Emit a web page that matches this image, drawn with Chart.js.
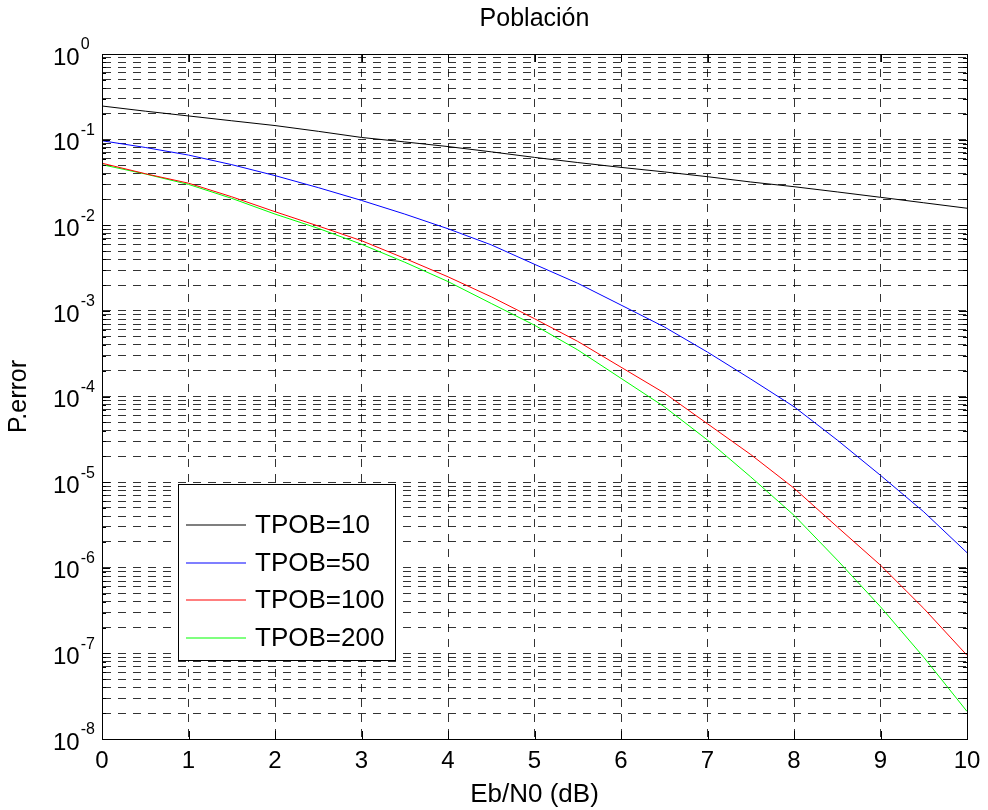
<!DOCTYPE html>
<html lang="es">
<head>
    <meta charset="UTF-8">
    <title>Población</title>
    <script src="https://cdn.jsdelivr.net/npm/chart.js"></script>
    <style>
        html, body { margin: 0; padding: 0; background: #fff; }
        #wrap { width: 988px; height: 810px; }
    </style>
</head>
<body>
    <div id="wrap">
        <canvas id="myChart" width="988" height="810"></canvas>
    </div>

<script>
    // Eb/N0 (dB)
    const ebn0 = [0, 0.5, 1, 1.5, 2, 2.5, 3, 3.5, 4, 4.5, 5, 5.5, 6, 6.5, 7, 7.5, 8, 8.5, 9, 9.5, 10];

    // P.error por tamaño de población
    const tpob10 = [0.247, 0.215, 0.189, 0.166, 0.146, 0.125, 0.106, 0.094, 0.083, 0.072, 0.062,
                    0.054, 0.0474, 0.042, 0.0369, 0.032, 0.0282, 0.0245, 0.0212, 0.0183, 0.0158];
    const tpob50 = [0.097, 0.081, 0.066, 0.051, 0.038, 0.0275, 0.0195, 0.0135, 0.0091, 0.0059, 0.0035,
                    0.0021, 0.00117, 6.5e-4, 3.3e-4, 1.6e-4, 7.6e-5, 3.1e-5, 1.2e-5, 4.5e-6, 1.5e-6];
    const tpob100 = [0.053, 0.040, 0.031, 0.0215, 0.0144, 0.0098, 0.0066, 0.0041, 0.0025, 0.00146, 8.1e-4,
                     4.4e-4, 2.2e-4, 1.1e-4, 4.8e-5, 2.1e-5, 8.5e-6, 3.0e-6, 1.07e-6, 3.35e-7, 9.5e-8];
    const tpob200 = [0.051, 0.0397, 0.030, 0.0206, 0.0135, 0.0092, 0.0060, 0.0037, 0.0022, 0.00122, 6.8e-4,
                     3.5e-4, 1.63e-4, 7.6e-5, 3.1e-5, 1.15e-5, 4.1e-6, 1.23e-6, 3.5e-7, 9.0e-8, 2.1e-8];

    const seriesNames = ['TPOB=10', 'TPOB=50', 'TPOB=100', 'TPOB=200'];
    const seriesColors = ['#000000', '#0000ff', '#ff0000', '#00ff00'];

    // ticks
    const xTicks = [0, 1, 2, 3, 4, 5, 6, 7, 8, 9, 10];
    const yExponents = [0, -1, -2, -3, -4, -5, -6, -7, -8];

    const FONT = "'Liberation Sans', Arial, Helvetica, sans-serif";

    // valores de la rejilla log: 1..9 x 10^e
    const yGridValues = [];
    yExponents.forEach(e => {
        if (e === 0) { yGridValues.push(1); return; }
        for (let m = 1; m <= 9; m++) yGridValues.push(m * Math.pow(10, e));
    });

    const toPoints = arr => arr.map((v, i) => ({ x: ebn0[i], y: v }));

    const matlabPlugin = {
        id: 'matlabAxes',
        afterDraw(chart) {
            const ctx = chart.ctx;
            const area = chart.chartArea;
            const xs = chart.scales.x;
            const ys = chart.scales.y;

            ctx.save();

            // ticks hacia dentro
            ctx.strokeStyle = '#000';
            ctx.lineWidth = 1;
            ctx.beginPath();
            xTicks.forEach(t => {
                const px = Math.round(xs.getPixelForValue(t)) + 0.5;
                ctx.moveTo(px, area.bottom); ctx.lineTo(px, area.bottom - 8);
                ctx.moveTo(px, area.top); ctx.lineTo(px, area.top + 8);
            });
            yGridValues.forEach(v => {
                const py = Math.round(ys.getPixelForValue(v)) + 0.5;
                const len = Math.abs(Math.log10(v) - Math.round(Math.log10(v))) < 1e-9 ? 8 : 4;
                ctx.moveTo(area.left, py); ctx.lineTo(area.left + len, py);
                ctx.moveTo(area.right, py); ctx.lineTo(area.right - len, py);
            });
            ctx.stroke();

            // caja
            ctx.strokeRect(Math.round(area.left) + 0.5, Math.round(area.top) + 0.5,
                           Math.round(area.right - area.left), Math.round(area.bottom - area.top));

            // titulo
            ctx.fillStyle = '#000';
            ctx.font = '25px ' + FONT;
            ctx.textAlign = 'center';
            ctx.textBaseline = 'middle';
            ctx.fillText('Población', (area.left + area.right) / 2, 19);

            // etiquetas eje x
            ctx.font = '24px ' + FONT;
            xTicks.forEach(t => {
                ctx.fillText(String(t), xs.getPixelForValue(t), area.bottom + 22);
            });

            // etiquetas eje y con superindice
            ctx.textAlign = 'left';
            yExponents.forEach(e => {
                const py = ys.getPixelForValue(Math.pow(10, e));
                ctx.font = '24px ' + FONT;
                ctx.fillText('10', 53, py + 4);
                const w = ctx.measureText('10').width;
                ctx.font = '16px ' + FONT;
                ctx.fillText(String(e), 53 + w + 1, py - 9);
            });

            // leyenda
            const lx = 178, ly = 484, lw = 217, lh = 176;
            ctx.fillStyle = '#fff';
            ctx.fillRect(lx, ly, lw, lh);
            ctx.strokeStyle = '#000';
            ctx.lineWidth = 1;
            ctx.strokeRect(lx + 0.5, ly + 0.5, lw, lh);
            ctx.font = '26px ' + FONT;
            ctx.textBaseline = 'middle';
            seriesNames.forEach((name, i) => {
                const y = Math.round(ly + 41 + i * 37.5);
                ctx.beginPath();
                ctx.strokeStyle = seriesColors[i];
                ctx.lineWidth = 1.2;
                ctx.moveTo(lx + 8, y);
                ctx.lineTo(lx + 68, y);
                ctx.stroke();
                ctx.fillStyle = '#000';
                ctx.fillText(name, lx + 77, y + 1);
            });

            ctx.restore();
        }
    };

    const gridOpts = {
        color: 'rgba(0,0,0,0.8)',
        lineWidth: 1,
        drawTicks: false
    };

    const datasets = seriesNames.map((name, i) => ({
        label: name,
        data: toPoints([tpob10, tpob50, tpob100, tpob200][i]),
        borderColor: seriesColors[i],
        borderWidth: 1,
        pointRadius: 0,
        tension: 0,
        fill: false
    }));

    const ctx = document.getElementById('myChart').getContext('2d');

    const myChart = new Chart(ctx, {
        type: 'line',
        data: { datasets: datasets },
        options: {
            responsive: false,
            animation: false,
            devicePixelRatio: 1,
            layout: { padding: { left: 0, right: 21, top: 54, bottom: 0 } },
            plugins: {
                legend: { display: false },
                tooltip: { enabled: false },
                title: { display: false }
            },
            scales: {
                x: {
                    type: 'linear',
                    min: 0,
                    max: 10,
                    ticks: { display: false, stepSize: 1 },
                    afterBuildTicks: scale => { scale.ticks = xTicks.map(v => ({ value: v })); },
                    afterFit: scale => { scale.height = 71; },
                    grid: gridOpts,
                    border: { display: true, color: '#000', width: 1, dash: [8, 7] },
                    title: {
                        display: true,
                        text: 'Eb/N0 (dB)',
                        color: '#000',
                        font: { family: FONT, size: 26 },
                        padding: { top: 4, bottom: 0 }
                    }
                },
                y: {
                    type: 'logarithmic',
                    min: 1e-8,
                    max: 1,
                    ticks: { display: false },
                    afterBuildTicks: scale => { scale.ticks = yGridValues.map(v => ({ value: v })); },
                    afterFit: scale => { scale.width = 102; },
                    grid: gridOpts,
                    border: { display: true, color: '#000', width: 1, dash: [8, 7] },
                    title: {
                        display: true,
                        text: 'P.error',
                        color: '#000',
                        font: { family: FONT, size: 25 },
                        padding: { top: 4, bottom: 4 }
                    }
                }
            }
        },
        plugins: [matlabPlugin]
    });
</script>
</body>
</html>
